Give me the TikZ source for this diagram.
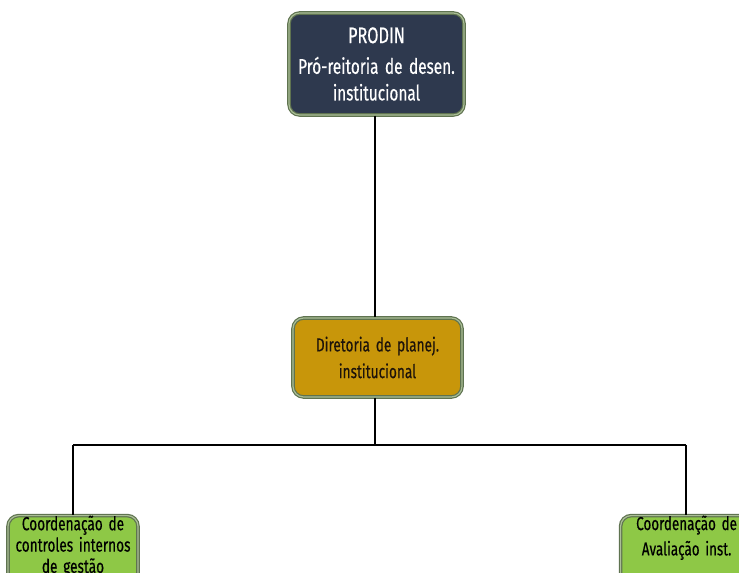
\documentclass[tikz,border=0pt]{standalone}
\usepackage{fontspec}
\setmainfont{Fira Sans}[FakeStretch=0.72,WordSpace=1.6,FakeBold=0.4]
\definecolor{navybox}{RGB}{46,57,78}
\definecolor{goldbox}{RGB}{200,150,10}
\definecolor{greenbox}{RGB}{142,200,70}
\definecolor{edgegreen}{RGB}{95,115,80}
\definecolor{edgelight}{RGB}{170,190,150}
\begin{document}
\begin{tikzpicture}[x=0.75pt,y=-0.75pt,
  orgbox/.style={draw=edgegreen,double=edgelight,double distance=0.9pt,line width=0.9pt,
    rounded corners=8pt,align=center,inner sep=0pt},
  link/.style={draw=black,line width=1.1pt}]
\clip (0,0) rectangle (739,573);
\useasboundingbox (0,0) rectangle (739,573);
\node[orgbox,fill=navybox,text=white,minimum width=175*0.75pt,minimum height=102*0.75pt,
  font=\fontsize{16}{20}\selectfont] (prodin) at (376.5,64)
  {{\fontsize{17}{20}\selectfont PRODIN}\\[3pt]Pró-reitoria de desen.\\institucional};
\node[orgbox,fill=goldbox,text=black!85!brown,minimum width=169*0.75pt,minimum height=79*0.75pt,
  font=\fontsize{14.2}{20}\selectfont] (dir) at (377.5,357.5)
  {Diretoria de planej.\\institucional};
\node[orgbox,fill=greenbox,text=black,minimum width=130*0.75pt,minimum height=80*0.75pt,anchor=north,
  font=\fontsize{14.2}{16}\selectfont] (left) at (73,515)
  {Coordenação de\\controles internos\\de gestão\\[14pt]};
\node[orgbox,fill=greenbox,text=black,minimum width=132*0.75pt,minimum height=80*0.75pt,anchor=north west,
  font=\fontsize{14}{19}\selectfont] (right) at (620,515)
  {Coordenação de\\Avaliação inst.\\[20pt]};
\coordinate (j) at (375,445);
\coordinate (jl) at (73,445);
\coordinate (jr) at (686,445);
\draw[link] (prodin.south -| j) -- (dir.north -| j);
\draw[link] (dir.south -| j) -- (j);
\draw[link] (jl) -- (jr);
\draw[link] (jl) -- (left.north -| jl);
\draw[link] (jr) -- (right.north -| jr);
\end{tikzpicture}
\end{document}
